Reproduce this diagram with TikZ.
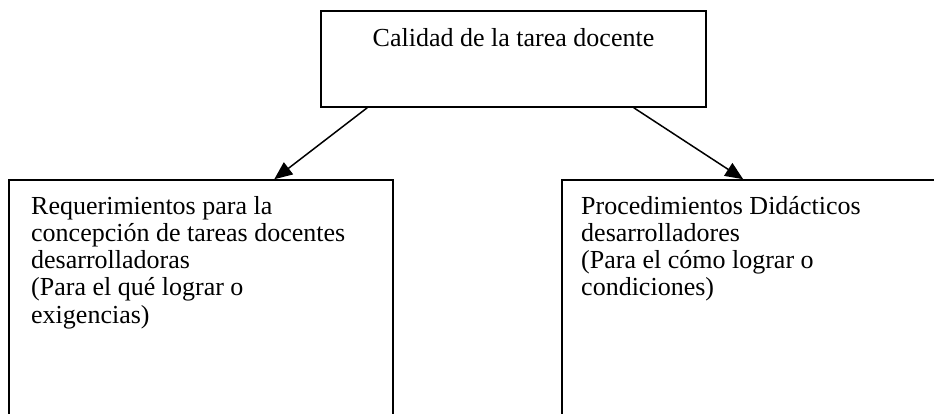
\documentclass[tikz,border=0pt]{standalone}
\usepackage{fontspec}
\setmainfont{Liberation Serif}
\usetikzlibrary{arrows.meta}
\begin{document}
\begin{tikzpicture}[x=1pt,y=-1pt,
  boxstyle/.style={draw=black,line width=1.5pt,inner sep=0pt,rectangle},
  txt/.style={inner sep=0pt,align=left,font=\fontsize{26}{27.2}\selectfont},
  arr/.style={line width=1.5pt,-{Triangle[length=18pt,width=15pt]}}]
\useasboundingbox (0,0) rectangle (934,414);
\clip (0,0) rectangle (934,414);
\node[boxstyle,minimum width=385pt,minimum height=96pt] (top) at (513.5,59) {};
\node[boxstyle,minimum width=384pt,minimum height=250pt] (lbox) at (201,305) {};
\node[boxstyle,minimum width=388pt,minimum height=250pt] (rbox) at (756,305) {};
\node[txt,anchor=base] (toptxt) at (513.5,46.7) {Calidad de la tarea docente};
\node[txt,anchor=north west] (ltxt) at (31,196) {Requerimientos para la\\concepción de tareas docentes\\desarrolladoras\\(Para el qué lograr o\\exigencias)};
\node[txt,anchor=north west] (rtxt) at (581,196) {Procedimientos Didácticos\\desarrolladores\\(Para el cómo lograr o\\condiciones)};
\draw[arr] ([xshift=47pt]top.south west) -- ([xshift=266pt]lbox.north west);
\draw[arr] ([xshift=-73pt]top.south east) -- ([xshift=182pt]rbox.north west);
\end{tikzpicture}
\end{document}
